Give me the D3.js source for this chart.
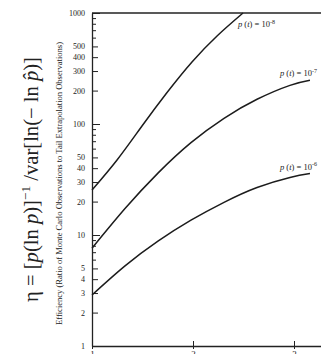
<!DOCTYPE html>
<html>
<head>
<meta charset="utf-8">
<script src="https://cdn.jsdelivr.net/npm/d3@7"></script>
<style>
  html, body { margin: 0; padding: 0; background: #fff; }
  svg { display: block; }
  text { font-family: "Liberation Serif", "DejaVu Serif", serif; fill: #222; }
</style>
</head>
<body>
<svg id="chart" width="321" height="354"></svg>
<script>
// ---- data ----
const xTicks = [1, 2, 3];
const yTickLabels = [1, 2, 3, 4, 5, 10, 20, 30, 40, 50, 100, 200, 300, 400, 500, 1000];
const yMinorTicks = [6, 7, 8, 9, 60, 70, 80, 90, 600, 700, 800, 900];

const x8 = [1, 1.248, 1.495, 1.743, 1.99, 2.238, 2.495];
const eta8 = [25.4, 47.4, 95.9, 192, 362, 621, 1000];

const x7 = [1, 1.327, 1.653, 1.98, 2.307, 2.634, 2.96, 3.158];
const eta7 = [7.6, 17.3, 36.1, 67.9, 112.5, 167, 223, 248];

const x6 = [1, 1.327, 1.653, 1.98, 2.307, 2.634, 2.96, 3.158];
const eta6 = [2.88, 5.27, 8.8, 13.6, 19.7, 26.8, 33.0, 35.8];

const seriesExp = ["-8", "-7", "-6"];

const yTitle = "Efficiency (Ratio of Monte Carlo Observations to Tail Extrapolation Observations)";

// ---- layout ----
const svg = d3.select("#chart");
const ink = "#222";

const x = d3.scaleLinear().domain([1, 3.3]).range([92, 92 + 2.3 * 101]);
const y = d3.scaleLog().domain([1, 1000]).range([346, 13]);

// top frame line
svg.append("line")
  .attr("x1", x(1)).attr("x2", x(3.3))
  .attr("y1", y(1000)).attr("y2", y(1000))
  .attr("stroke", ink).attr("stroke-width", 1.3);

// y axis
const allY = yTickLabels.concat(yMinorTicks).sort((a, b) => a - b);
const yAxis = d3.axisLeft(y)
  .tickValues(allY)
  .tickSizeInner(-5)
  .tickSizeOuter(0)
  .tickPadding(7)
  .tickFormat(d => yTickLabels.includes(d) ? String(d) : "");
const gy = svg.append("g").attr("transform", `translate(${x(1)},0)`).call(yAxis);
gy.select(".domain").attr("stroke", ink).attr("stroke-width", 1.3);
gy.selectAll(".tick line")
  .attr("stroke", ink)
  .attr("x2", d => [1, 10, 100, 1000].includes(d) ? 8 : (yTickLabels.includes(d) ? 6 : 4));
gy.selectAll(".tick text")
  .attr("font-size", 8)
  .attr("font-family", "'Liberation Serif', serif")
  .attr("fill", ink);

// x axis
const xAxis = d3.axisBottom(x)
  .tickValues(xTicks)
  .tickSizeInner(3)
  .tickSizeOuter(0)
  .tickPadding(2)
  .tickFormat(d3.format("d"));
const gx = svg.append("g").attr("transform", `translate(0,${y(1)})`).call(xAxis);
gx.select(".domain").attr("stroke", ink).attr("stroke-width", 1.3);
gx.selectAll(".tick line").attr("stroke", ink).attr("y1", -5);
gx.selectAll(".tick text")
  .attr("font-size", 9)
  .attr("font-family", "'Liberation Serif', serif")
  .attr("fill", ink);

// curves
const line = d3.line()
  .x(d => x(d[0]))
  .y(d => y(d[1]))
  .curve(d3.curveNatural);

const series = [
  { xs: x8, ys: eta8, exp: seriesExp[0] },
  { xs: x7, ys: eta7, exp: seriesExp[1] },
  { xs: x6, ys: eta6, exp: seriesExp[2] }
];

series.forEach((s, i) => {
  const pts = s.xs.map((v, j) => [v, s.ys[j]]);
  svg.append("path")
    .attr("d", line(pts))
    .attr("fill", "none")
    .attr("stroke", "#1c1c1c")
    .attr("stroke-width", 1.5);

  const last = pts[pts.length - 1];
  const ex = x(last[0]), ey = y(last[1]);
  let lx, ly;
  if (i === 0) { lx = ex - 5; ly = ey + 14; }
  else { lx = ex - 30; ly = ey - 4; }
  const t = svg.append("text")
    .attr("x", lx).attr("y", ly)
    .attr("font-size", 8.5);
  t.append("tspan").attr("font-style", "italic").text("p");
  t.append("tspan").text(" (");
  t.append("tspan").attr("font-style", "italic").text("t");
  t.append("tspan").text(") = 10");
  t.append("tspan").attr("font-size", 6).attr("dy", -3.5).text(s.exp);
});

// small axis title
svg.append("text")
  .attr("transform", `translate(62,${(42 + 325) / 2}) rotate(-90)`)
  .attr("text-anchor", "middle")
  .attr("font-size", 7.2)
  .attr("textLength", 283)
  .attr("lengthAdjust", "spacingAndGlyphs")
  .text(yTitle);

// big formula label
const big = svg.append("text")
  .attr("transform", `translate(38,${(57 + 302) / 2}) rotate(-90)`)
  .attr("text-anchor", "middle")
  .attr("font-size", 20)
  .attr("fill", "#111");
big.append("tspan").text("η = [");
big.append("tspan").attr("font-style", "italic").text("p");
big.append("tspan").text("(ln ");
big.append("tspan").attr("font-style", "italic").text("p");
big.append("tspan").text(")]");
big.append("tspan").attr("class", "sup").attr("font-size", 13).attr("dy", -8).text("−1");
big.append("tspan").attr("class", "after").attr("dy", 8).text(" /var[ln(− ln ");
big.append("tspan").attr("font-style", "italic").text("p\u0302");
big.append("tspan").text(")]");
const L = big.node().getComputedTextLength();
const fs = 20 * 245 / L;
big.attr("font-size", fs);
big.select(".sup").attr("font-size", 13 * fs / 20).attr("dy", -8 * fs / 20);
big.select(".after").attr("dy", 8 * fs / 20);
</script>
</body>
</html>
